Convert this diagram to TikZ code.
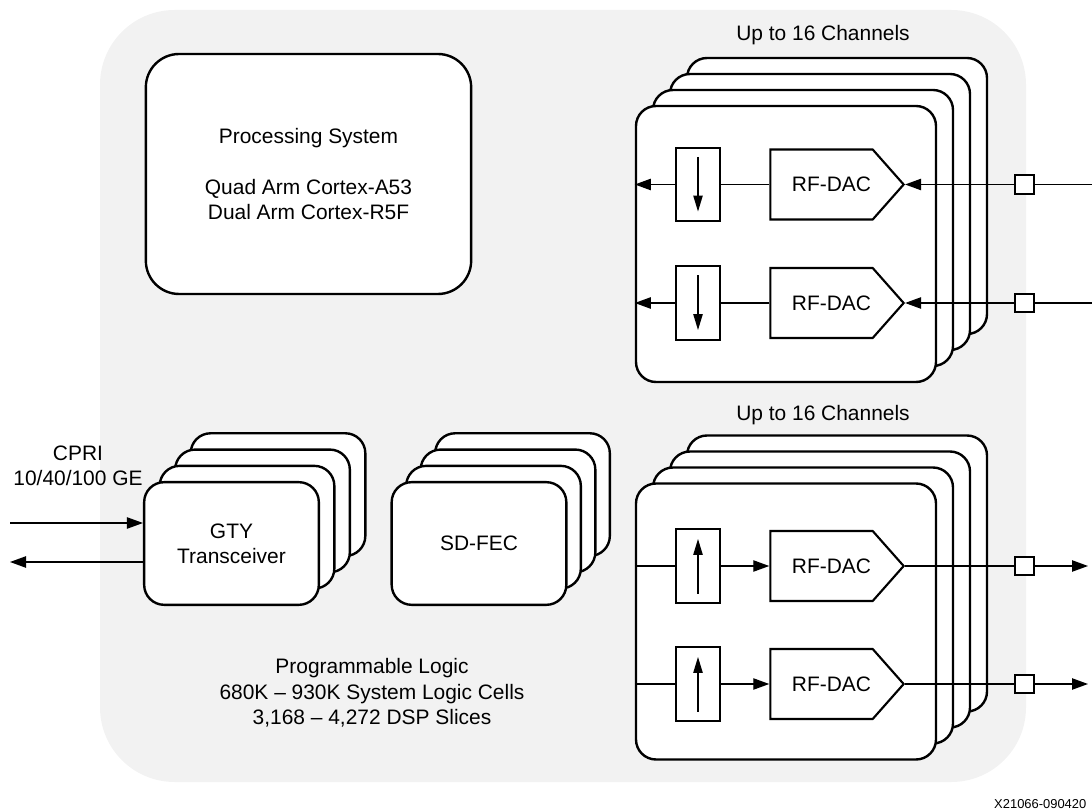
\documentclass[tikz,border=0pt]{standalone}
\usepackage{fontspec}
\setmainfont{Liberation Sans}
\usetikzlibrary{arrows.meta,shapes.symbols}

\tikzset{
  txt/.style={font=\fontsize{15.7}{19}\selectfont, align=center},
  card/.style={draw, fill=white, line width=1.8pt, rounded corners=15pt, inner sep=0pt},
  chcard/.style={card, minimum width=225pt, minimum height=207pt},
  ipcard/.style={card, minimum width=131pt, minimum height=92pt, txt},
  ratebox/.style={draw, fill=white, line width=1.6pt, minimum width=33pt, minimum height=55pt, inner sep=0pt},
  dac/.style={draw, fill=white, line width=1.6pt, shape=signal, signal to=east, signal pointer angle=97,
    minimum width=100pt, minimum height=52.5pt, inner sep=0pt, txt},
  pad/.style={draw, fill=white, line width=1.4pt, minimum size=14pt, inner sep=0pt},
  wire/.style={line width=1pt, >={Triangle[length=12pt,width=8.5pt]}},
  tick/.style={line width=1pt, >={Triangle[length=12pt,width=7pt]}}
}
\newcommand{\dactext}{\hspace*{15pt}RF-DAC}

\begin{document}
\begin{tikzpicture}[x=0.75pt,y=-0.75pt]
  \useasboundingbox (0,0) rectangle (1092,812);

  % programmable logic area
  \fill[gray!10, rounded corners=56pt] (100,10) rectangle (1026,782);
  \node[txt] (pl) at (372,693) {Programmable Logic\\680K -- 930K System Logic Cells\\3,168 -- 4,272 DSP Slices};

  % processing system
  \node[card, rounded corners=25pt, minimum width=244pt, minimum height=180pt, txt] (ps) at (308.5,174)
    {Processing System\\[19pt]Quad Arm Cortex-A53\\Dual Arm Cortex-R5F};

  % top channel stack
  \node[txt] (toplbl) at (823,35) {Up to 16 Channels};
  \foreach \i in {3,2,1}
    \node[chcard] (top\i) at (786+17*\i,244-16*\i) {};
  \node[chcard] (top0) at (786,244) {};

  \foreach \r/\y in {1/184.5,2/303}{
    \node[ratebox] (dn\r) at (698,\y) {};
    \node[dac] (tdac\r) at (821.5,\y) {\dactext};
    \node[pad] (tpad\r) at (1024.5,\y) {};
    \coordinate (tin\r) at (1092,\y);
    \draw[wire] (tin\r) -- (tpad\r);
    \draw[wire,->] (tpad\r) -- (tdac\r.east);
    \draw[wire] (tdac\r.west) -- (dn\r);
    \draw[wire,->] (dn\r.west) -- (dn\r.west -| top0.west);
    \draw[tick,->] ([yshift=-7.5pt]dn\r.north) -- ([yshift=8pt]dn\r.south);
  }

  % bottom channel stack
  \node[txt] (botlbl) at (823,415) {Up to 16 Channels};
  \foreach \i in {3,2,1}
    \node[chcard] (bot\i) at (786+17*\i,621.5-16*\i) {};
  \node[chcard] (bot0) at (786,621.5) {};

  \foreach \r/\y in {1/566,2/684}{
    \node[ratebox] (up\r) at (698,\y) {};
    \node[dac] (bdac\r) at (821.5,\y) {\dactext};
    \node[pad] (bpad\r) at (1024.5,\y) {};
    \coordinate (bout\r) at (1088,\y);
    \draw[wire] (up\r.west -| bot0.west) -- (up\r.west);
    \draw[wire,->] (up\r) -- (bdac\r.west);
    \draw[wire] (bdac\r.east) -- (bpad\r);
    \draw[wire,->] (bpad\r) -- (bout\r);
    \draw[tick,->] ([yshift=7.5pt]up\r.south) -- ([yshift=-8pt]up\r.north);
  }

  % transceivers
  \foreach \i in {3,2,1}
    \node[ipcard] (gty\i) at (231.5+15.5*\i,543.5-16.3*\i) {};
  \node[ipcard] (gty0) at (231.5,543.5) {GTY\\Transceiver};

  \node[txt] (cpri) at (78,465.5) {CPRI\\10/40/100 GE};
  \coordinate (cin) at (10,523);
  \coordinate (cout) at (10,562);
  \draw[wire,->] (cin) -- (cin -| gty0.west);
  \draw[wire,->] (cout -| gty0.west) -- (cout);

  % sd-fec
  \foreach \i in {3,2,1}
    \node[ipcard] (fec\i) at (479+14.5*\i,543.5-16.3*\i) {};
  \node[ipcard] (fec0) at (479,543.5) {SD-FEC};

  \node[font=\fontsize{9.7}{11}\selectfont, anchor=east] (fig) at (1091,804) {X21066-090420};
\end{tikzpicture}
\end{document}
